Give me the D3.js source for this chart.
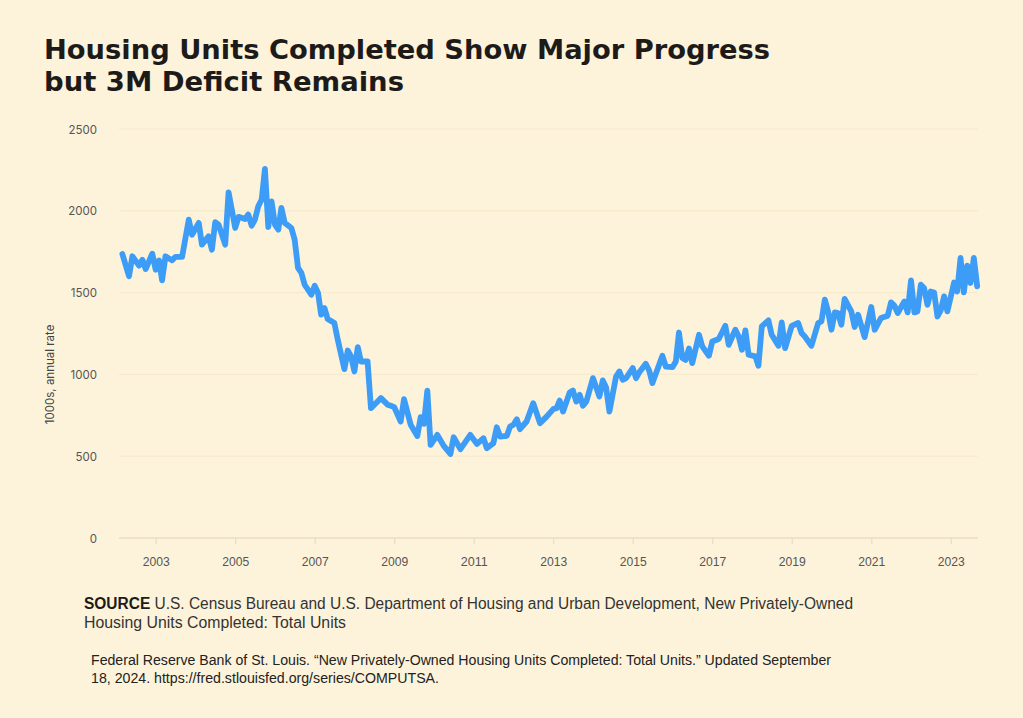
<!DOCTYPE html>
<html>
<head>
<meta charset="utf-8">
<script src="https://cdn.jsdelivr.net/npm/d3@7"></script>
<style>
  html, body { margin: 0; padding: 0; background: #fdf3da; }
  svg { display: block; }
</style>
</head>
<body>
<svg id="chart" width="1023" height="718"></svg>
<script>
// ---- data ----
const dates = [
  "2002-03","2002-05","2002-06","2002-08","2002-09","2002-10","2002-12","2003-01","2003-02","2003-03",
  "2003-04","2003-06","2003-07","2003-09","2003-11","2003-12","2004-02","2004-03","2004-05","2004-06",
  "2004-07","2004-08","2004-10","2004-11","2005-01","2005-02","2005-04","2005-05","2005-06","2005-07",
  "2005-08","2005-09","2005-10","2005-11","2005-12","2006-01","2006-02","2006-03","2006-04","2006-06",
  "2006-07","2006-08","2006-09","2006-10","2006-12","2007-01","2007-02","2007-03","2007-04","2007-05",
  "2007-07","2007-08","2007-10","2007-11","2007-12","2008-01","2008-02","2008-03","2008-05","2008-06",
  "2008-08","2008-09","2008-11","2008-12","2009-01","2009-03","2009-04","2009-06","2009-08","2009-09",
  "2009-10","2009-11","2009-12","2010-02","2010-04","2010-06","2010-07","2010-09","2010-12","2011-02",
  "2011-04","2011-05","2011-07","2011-08","2011-09","2011-11","2011-12","2012-01","2012-02","2012-03",
  "2012-05","2012-07","2012-09","2012-11","2013-01","2013-02","2013-03","2013-04","2013-06","2013-07",
  "2013-08","2013-09","2013-10","2013-11","2014-01","2014-03","2014-04","2014-05","2014-06","2014-08",
  "2014-09","2014-10","2014-11","2015-01","2015-02","2015-03","2015-05","2015-06","2015-07","2015-10",
  "2015-11","2016-01","2016-02","2016-03","2016-04","2016-05","2016-06","2016-07","2016-09","2016-10",
  "2016-12","2017-01","2017-03","2017-05","2017-06","2017-08","2017-09","2017-10","2017-11","2017-12",
  "2018-02","2018-03","2018-04","2018-06","2018-07","2018-09","2018-10","2018-11","2019-01","2019-03",
  "2019-04","2019-05","2019-07","2019-09","2019-10","2019-11","2019-12","2020-01","2020-02","2020-03",
  "2020-04","2020-05","2020-07","2020-08","2020-09","2020-11","2021-01","2021-02","2021-04","2021-06",
  "2021-07","2021-08","2021-09","2021-11","2021-12","2022-01","2022-02","2022-03","2022-04","2022-05",
  "2022-06","2022-07","2022-08","2022-09","2022-10","2022-11","2022-12","2023-02","2023-03","2023-04",
  "2023-05","2023-06","2023-07","2023-08","2023-09"
];
const completions = [
  1736,1600,1722,1665,1701,1644,1738,1640,1697,1575,
  1722,1697,1718,1718,1946,1854,1926,1793,1844,1762,
  1930,1916,1793,2113,1895,1963,1950,1977,1909,1946,
  2028,2069,2256,1901,2058,1916,1885,2018,1926,1895,
  1824,1651,1620,1548,1487,1542,1498,1365,1406,1338,
  1314,1212,1032,1146,1110,1018,1167,1079,1079,794,
  834,855,815,808,800,712,849,692,624,739,
  698,901,569,630,563,514,616,543,630,575,
  610,549,580,677,620,624,681,692,726,665,
  712,824,702,742,788,794,840,773,889,901,
  834,875,808,834,977,865,963,922,773,987,
  1018,967,977,1039,977,1012,1065,1024,947,1114,
  1048,1044,1079,1256,1100,1089,1158,1069,1242,1171,
  1114,1201,1216,1297,1181,1273,1232,1151,1269,1120,
  1110,1053,1293,1330,1242,1175,1318,1161,1297,1314,
  1253,1232,1175,1314,1324,1457,1385,1273,1379,1375,
  1304,1461,1385,1290,1365,1228,1412,1273,1345,1359,
  1440,1420,1375,1446,1379,1575,1379,1385,1548,1528,
  1426,1507,1501,1354,1391,1477,1385,1562,1507,1712,
  1501,1665,1559,1712,1538
];
const yTicks = [0, 500, 1000, 1500, 2000, 2500];
const xTickYears = [2003, 2005, 2007, 2009, 2011, 2013, 2015, 2017, 2019, 2021, 2023];
const titleLines = ["Housing Units Completed Show Major Progress", "but 3M Deficit Remains"];
const yAxisTitle = "1000s, annual rate";
const sourceLabel = "SOURCE";
const sourceLines = [
  " U.S. Census Bureau and U.S. Department of Housing and Urban Development, New Privately-Owned",
  "Housing Units Completed: Total Units"
];
const citationLines = [
  "Federal Reserve Bank of St. Louis. \u201cNew Privately-Owned Housing Units Completed: Total Units.\u201d Updated September",
  "18, 2024. https://fred.stlouisfed.org/series/COMPUTSA."
];

// ---- drawing ----
const svg = d3.select("#chart");
const parse = d3.timeParse("%Y-%m");
const data = dates.map((d, i) => ({ date: parse(d), value: completions[i] }));

svg.append("rect").attr("width", 1023).attr("height", 718).attr("fill", "#fdf3da");

const x = d3.scaleTime()
  .domain([new Date(2002, 1, 1), new Date(2023, 8, 1)])
  .range([119.3, 977.2]);
const y = d3.scaleLinear().domain([0, 2500]).range([538, 129]);

const plotLeft = 119, plotRight = 978;

// gridlines
svg.append("g").selectAll("line")
  .data(yTicks.filter(t => t > 0))
  .join("line")
  .attr("x1", plotLeft).attr("x2", plotRight)
  .attr("y1", d => y(d)).attr("y2", d => y(d))
  .attr("stroke", "#f5e8cb").attr("stroke-width", 1);

// y axis labels
const yAxis = d3.axisLeft(y).tickValues(yTicks).tickSize(0).tickPadding(0).tickFormat(d3.format("d"));
const gy = svg.append("g").attr("transform", "translate(97,0)").call(yAxis);
gy.select(".domain").remove();
gy.selectAll("text")
  .attr("font-family", "Inter, 'Liberation Sans', sans-serif")
  .attr("font-size", 11.5).attr("fill", "#555").attr("dy", "0.35em");

// x axis
const xAxis = d3.axisBottom(x)
  .tickValues(xTickYears.map(yr => new Date(yr, 0, 1)))
  .tickSize(6).tickPadding(13)
  .tickFormat(d3.timeFormat("%Y"));
const gx = svg.append("g").attr("transform", `translate(0,${y(0)})`).call(xAxis);
gx.select(".domain").remove();
gx.selectAll(".tick line").attr("stroke", "#e3d9c0");
gx.selectAll("text")
  .attr("font-family", "'Liberation Sans', sans-serif")
  .attr("font-size", 13).attr("fill", "#555")
  .attr("textLength", 27).attr("lengthAdjust", "spacingAndGlyphs");

// baseline
svg.append("line")
  .attr("x1", plotLeft).attr("x2", plotRight)
  .attr("y1", y(0)).attr("y2", y(0))
  .attr("stroke", "#e8dec5").attr("stroke-width", 1.5);

// y axis title
svg.append("text")
  .attr("transform", `translate(54,${y(1000)}) rotate(-90)`)
  .attr("text-anchor", "middle")
  .attr("font-family", "Inter, 'Liberation Sans', sans-serif")
  .attr("font-size", 11.5).attr("fill", "#444")
  .text(yAxisTitle);

// line
const line = d3.line().x(d => x(d.date)).y(d => y(d.value)).curve(d3.curveLinear);
svg.append("path")
  .datum(data)
  .attr("d", line)
  .attr("fill", "none")
  .attr("stroke", "#3d9df6")
  .attr("stroke-width", 5.8)
  .attr("stroke-linejoin", "round")
  .attr("stroke-linecap", "round");

// title
const titleWidths = [726, 360];
titleLines.forEach((t, i) => {
  svg.append("text")
    .attr("x", 44).attr("y", 59 + i * 32)
    .attr("font-family", "'DejaVu Sans Condensed', 'DejaVu Sans', sans-serif")
    .attr("font-stretch", "condensed")
    .attr("font-weight", 700)
    .attr("font-size", 27).attr("fill", "#1d1b1a")
    .attr("textLength", titleWidths[i]).attr("lengthAdjust", "spacingAndGlyphs")
    .text(t);
});

// source
const srcFont = "'Liberation Sans', sans-serif";
const s1 = svg.append("text")
  .attr("x", 84).attr("y", 609)
  .attr("font-family", srcFont).attr("font-size", 16).attr("fill", "#333")
  .attr("textLength", 769).attr("lengthAdjust", "spacingAndGlyphs");
s1.append("tspan").attr("font-weight", 700).attr("fill", "#1d1b1a").text(sourceLabel);
s1.append("tspan").text(sourceLines[0]);
svg.append("text")
  .attr("x", 84).attr("y", 628)
  .attr("font-family", srcFont).attr("font-size", 16).attr("fill", "#333")
  .attr("textLength", 262).attr("lengthAdjust", "spacingAndGlyphs")
  .text(sourceLines[1]);

// citation
const citWidths = [740, 348];
citationLines.forEach((t, i) => {
  svg.append("text")
    .attr("x", 91).attr("y", 665 + i * 18)
    .attr("font-family", srcFont).attr("font-size", 14).attr("fill", "#222")
    .attr("textLength", citWidths[i]).attr("lengthAdjust", "spacingAndGlyphs")
    .text(t);
});
</script>
</body>
</html>
